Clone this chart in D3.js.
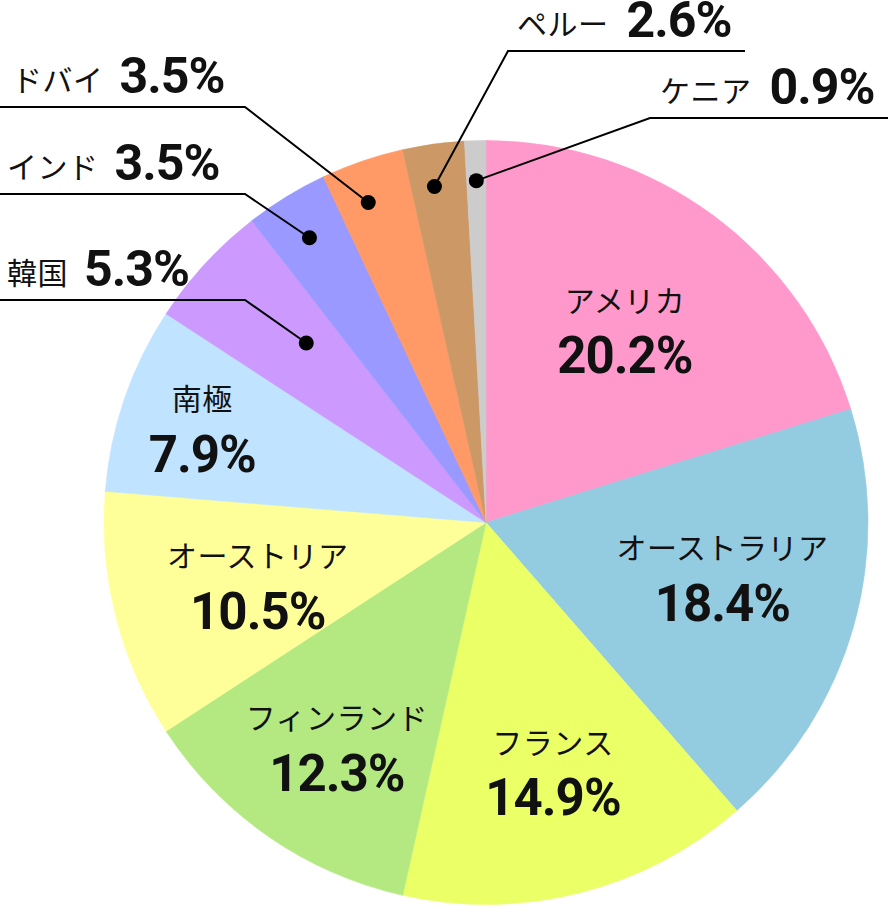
<!DOCTYPE html>
<html lang="ja">
<head>
<meta charset="UTF-8">
<script src="https://d3js.org/d3.v7.min.js"></script>
<style>
  body { margin: 0; background: #fff; }
  svg { display: block; }
</style>
</head>
<body>
<div id="chart"></div>
<script>
// data, clockwise from 12 o'clock
const names = ["アメリカ", "オーストラリア", "フランス", "フィンランド", "オーストリア", "南極", "韓国", "インド", "ドバイ", "ペルー", "ケニア"];
const shares = [20.2, 18.4, 14.9, 12.3, 10.5, 7.9, 5.3, 3.5, 3.5, 2.6, 0.9];
const colors = ["#ff99cc", "#93cbe0", "#ebff66", "#b3e980", "#ffff99", "#c0e3ff", "#cc99ff", "#9999ff", "#ff9966", "#cc9966", "#cccccc"];

const width = 888, height = 910;
const cx = 486, cy = 522.5, R = 382;

// where the labels go (radius, angle shift in degrees)
const inside = {
  "アメリカ": { r: 240, da: -1 },
  "オーストラリア": { r: 242, da: -3.5 },
  "フランス": { r: 255, da: -1 },
  "フィンランド": { r: 267, da: -0.8 },
  "オーストリア": { r: 236, da: -0.5 },
  "南極": { r: 300, da: 0 }
};
// callouts: dot radius/angle shift, elbow point, line end, text start
const outside = {
  "韓国":   { dot: 254, da: 2.3,  elbow: [245, 300], end: 0,   tx: 7,   gap: 16 },
  "インド": { dot: 335, da: -0.3, elbow: [245, 194], end: 0,   tx: 7,   gap: 16 },
  "ドバイ": { dot: 341, da: -1.3, elbow: [245, 107], end: 0,   tx: 12,  gap: 16 },
  "ペルー": { dot: 340, da: -0.8, elbow: [508, 51],  end: 745, tx: 517, gap: 18 },
  "ケニア": { dot: 342, da: 0,    elbow: [650, 118], end: 888, tx: 660, gap: 18 }
};

const data = names.map((n, i) => ({ name: n, value: shares[i], color: colors[i] }));

const svg = d3.select("#chart").append("svg")
  .attr("width", width)
  .attr("height", height);

const g = svg.append("g").attr("transform", `translate(${cx},${cy})`);

const pie = d3.pie().sort(null).value(d => d.value);
const arcs = pie(data);
const arc = d3.arc().innerRadius(0).outerRadius(R);

g.selectAll("path.slice")
  .data(arcs)
  .join("path")
  .attr("class", "slice")
  .attr("d", arc)
  .attr("fill", d => d.data.color)
  .attr("stroke", d => d.data.color)
  .attr("stroke-width", 0.6);

const polar = (r, a) => [r * Math.sin(a), -r * Math.cos(a)];
const mid = d => (d.startAngle + d.endAngle) / 2;
const rad = deg => deg * Math.PI / 180;

// inside labels
const inArcs = arcs.filter(d => inside[d.data.name]);
const lab = g.selectAll("g.lab")
  .data(inArcs)
  .join("g")
  .attr("class", "lab")
  .attr("transform", d => {
    const o = inside[d.data.name];
    const p = polar(o.r, mid(d) + rad(o.da));
    return `translate(${p[0]},${p[1]})`;
  });

lab.append("text")
  .attr("y", -28)
  .attr("text-anchor", "middle")
  .attr("dominant-baseline", "central")
  .style("font-family", "'Noto Sans CJK JP', sans-serif")
  .style("font-size", "30px")
  .style("letter-spacing", "0.5px")
  .attr("fill", "#111")
  .text(d => d.data.name);

lab.append("text")
  .attr("y", 29)
  .attr("text-anchor", "middle")
  .attr("dominant-baseline", "central")
  .style("font-family", "Roboto, sans-serif")
  .style("font-weight", "700")
  .style("font-size", "51px")
  .style("letter-spacing", "-1px")
  .attr("fill", "#111")
  .text(d => d.data.value.toFixed(1) + "%");

// outside callouts
const outArcs = arcs.filter(d => outside[d.data.name]);

outArcs.forEach(d => {
  const o = outside[d.data.name];
  const p = polar(o.dot, mid(d) + rad(o.da));
  const dotX = cx + p[0], dotY = cy + p[1];
  const [ex, ey] = o.elbow;

  svg.append("polyline")
    .attr("points", [[dotX, dotY], [ex, ey], [o.end, ey]].map(q => q.join(",")).join(" "))
    .attr("fill", "none")
    .attr("stroke", "#000")
    .attr("stroke-width", 2);

  svg.append("circle")
    .attr("cx", dotX)
    .attr("cy", dotY)
    .attr("r", 7.5)
    .attr("fill", "#000");

  const t = svg.append("text")
    .attr("x", o.tx)
    .attr("y", ey - 14)
    .attr("fill", "#111");
  t.append("tspan")
    .style("font-family", "'Noto Sans CJK JP', sans-serif")
    .style("font-size", "30px")
    .style("letter-spacing", "0.5px")
    .attr("dy", -2)
    .text(d.data.name);
  t.append("tspan")
    .attr("dx", o.gap)
    .attr("dy", 2)
    .style("font-family", "Roboto, sans-serif")
    .style("font-weight", "700")
    .style("font-size", "50px")
    .style("letter-spacing", "-1px")
    .text(d.data.value.toFixed(1) + "%");
});
</script>
</body>
</html>
